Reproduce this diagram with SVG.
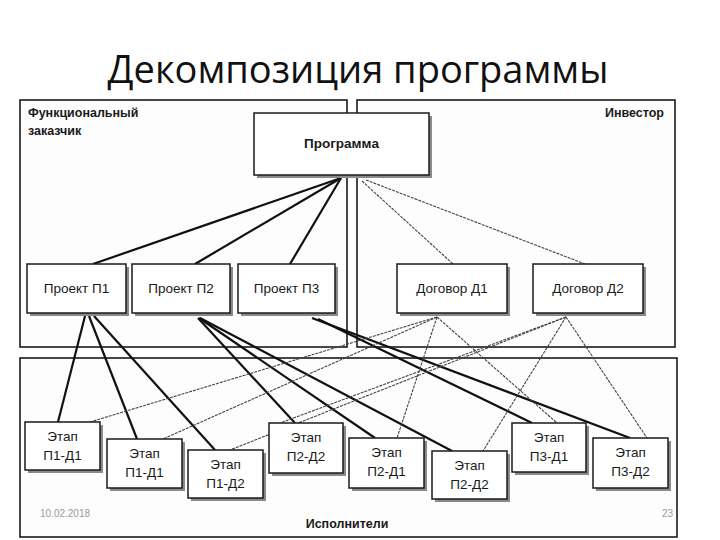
<svg xmlns="http://www.w3.org/2000/svg" width="720" height="540" viewBox="0 0 720 540">
<style>
.panel{fill:#fdfdfd;stroke:#1a1a1a;stroke-width:1.6}
.box{fill:#ffffff;stroke:#1a1a1a;stroke-width:1.5}
.shadow{fill:#8a8a8a}
.t{font-family:"Liberation Sans",Arial,sans-serif;font-size:13.5px;fill:#1a1a1a;text-anchor:middle}
.b{font-weight:bold}
.lbl{font-family:"Liberation Sans",Arial,sans-serif;font-size:12.5px;font-weight:bold;fill:#1a1a1a}
.thick{stroke:#111;stroke-width:2.2;fill:none}
.thin{stroke:#444;stroke-width:1.1;stroke-dasharray:3 1;fill:none}
.foot{font-family:"Liberation Sans",Arial,sans-serif;font-size:10px;fill:#9a9a9a}
</style>
<rect width="720" height="540" fill="#ffffff"/>
<text x="358" y="83" font-family="'Open Sans','Liberation Sans',sans-serif" font-size="38" text-anchor="middle" fill="#111">Декомпозиция программы</text>

<g id="panel-customer">
<rect class="panel" x="20" y="100" width="327" height="247"/>
<text class="lbl" x="28" y="117">Функциональный</text>
<text class="lbl" x="28" y="135">заказчик</text>
</g>
<g id="panel-investor">
<rect class="panel" x="357" y="100" width="318" height="247" fill="#ffffff"/>
<text class="lbl" x="664" y="117" text-anchor="end">Инвестор</text>
</g>
<g id="panel-executors">
<rect class="panel" x="20" y="358" width="657" height="179"/>
<text class="lbl" x="347" y="528" text-anchor="middle" font-size="13">Исполнители</text>
<text class="foot" x="40" y="517">10.02.2018</text>
<text class="foot" x="673" y="517" text-anchor="end">23</text>
</g>

<g id="connectors">
<line class="thick" x1="341" y1="178" x2="93" y2="264"/>
<line class="thick" x1="341" y1="178" x2="195" y2="264"/>
<line class="thick" x1="341" y1="178" x2="290" y2="264"/>
<line class="thin" x1="362" y1="181" x2="453" y2="264"/>
<line class="thin" x1="366" y1="180" x2="585" y2="264"/>
<line class="thick" x1="85" y1="316" x2="58" y2="422"/>
<line class="thick" x1="89" y1="316" x2="137" y2="439"/>
<line class="thick" x1="94" y1="316" x2="215" y2="450"/>
<line class="thick" x1="198" y1="318" x2="295" y2="423"/>
<line class="thick" x1="199" y1="318" x2="375" y2="438"/>
<line class="thick" x1="200" y1="318" x2="452" y2="451"/>
<line class="thick" x1="318" y1="319" x2="532" y2="423"/>
<line class="thick" x1="312" y1="318" x2="630" y2="438"/>
<line class="thin" x1="437" y1="317" x2="90" y2="422"/>
<line class="thin" x1="437" y1="317" x2="163" y2="439"/>
<line class="thin" x1="437" y1="317" x2="397" y2="438"/>
<line class="thin" x1="437" y1="317" x2="557" y2="423"/>
<line class="thin" x1="566" y1="317" x2="230" y2="450"/>
<line class="thin" x1="566" y1="317" x2="280" y2="423"/>
<line class="thin" x1="566" y1="317" x2="483" y2="451"/>
<line class="thin" x1="566" y1="317" x2="647" y2="438"/>
</g>

<g id="program">
<rect class="shadow" x="257" y="116" width="175" height="62"/>
<rect class="box" x="254" y="113" width="175" height="62"/>
<text class="t b" x="341.5" y="148">Программа</text>
</g>
<g id="project-p1">
<rect class="shadow" x="30" y="267" width="99" height="49"/>
<rect class="box" x="27" y="264" width="99" height="49"/>
<text class="t" x="76.5" y="293">Проект П1</text>
</g>
<g id="project-p2">
<rect class="shadow" x="135" y="267" width="98" height="49"/>
<rect class="box" x="132" y="264" width="98" height="49"/>
<text class="t" x="181" y="293">Проект П2</text>
</g>
<g id="project-p3">
<rect class="shadow" x="241" y="267" width="97" height="49"/>
<rect class="box" x="238" y="264" width="97" height="49"/>
<text class="t" x="286.5" y="293">Проект П3</text>
</g>
<g id="contract-d1">
<rect class="shadow" x="400" y="267" width="110" height="49"/>
<rect class="box" x="397" y="264" width="110" height="49"/>
<text class="t" x="452" y="293">Договор Д1</text>
</g>
<g id="contract-d2">
<rect class="shadow" x="536" y="267" width="110" height="49"/>
<rect class="box" x="533" y="264" width="110" height="49"/>
<text class="t" x="588" y="293">Договор Д2</text>
</g>

<g id="stage-e1">
<rect class="shadow" x="28" y="425" width="75" height="48"/>
<rect class="box" x="25" y="422" width="75" height="48"/>
<text class="t" x="62.5" y="441">Этап</text>
<text class="t" x="62.5" y="460">П1-Д1</text>
</g>
<g id="stage-e2">
<rect class="shadow" x="110" y="442" width="75" height="49"/>
<rect class="box" x="107" y="439" width="75" height="49"/>
<text class="t" x="144.5" y="458">Этап</text>
<text class="t" x="144.5" y="477">П1-Д1</text>
</g>
<g id="stage-e3">
<rect class="shadow" x="191" y="453" width="75" height="48"/>
<rect class="box" x="188" y="450" width="75" height="48"/>
<text class="t" x="225.5" y="469">Этап</text>
<text class="t" x="225.5" y="488">П1-Д2</text>
</g>
<g id="stage-e4">
<rect class="shadow" x="272" y="426" width="74" height="50"/>
<rect class="box" x="269" y="423" width="74" height="50"/>
<text class="t" x="306" y="442">Этап</text>
<text class="t" x="306" y="461">П2-Д2</text>
</g>
<g id="stage-e5">
<rect class="shadow" x="352" y="441" width="75" height="50"/>
<rect class="box" x="349" y="438" width="75" height="50"/>
<text class="t" x="386.5" y="457">Этап</text>
<text class="t" x="386.5" y="476">П2-Д1</text>
</g>
<g id="stage-e6">
<rect class="shadow" x="435" y="454" width="75" height="48"/>
<rect class="box" x="432" y="451" width="75" height="48"/>
<text class="t" x="469.5" y="470">Этап</text>
<text class="t" x="469.5" y="489">П2-Д2</text>
</g>
<g id="stage-e7">
<rect class="shadow" x="515" y="426" width="74" height="49"/>
<rect class="box" x="512" y="423" width="74" height="49"/>
<text class="t" x="549" y="442">Этап</text>
<text class="t" x="549" y="461">П3-Д1</text>
</g>
<g id="stage-e8">
<rect class="shadow" x="596" y="441" width="75" height="50"/>
<rect class="box" x="593" y="438" width="75" height="50"/>
<text class="t" x="630.5" y="457">Этап</text>
<text class="t" x="630.5" y="476">П3-Д2</text>
</g>
</svg>
